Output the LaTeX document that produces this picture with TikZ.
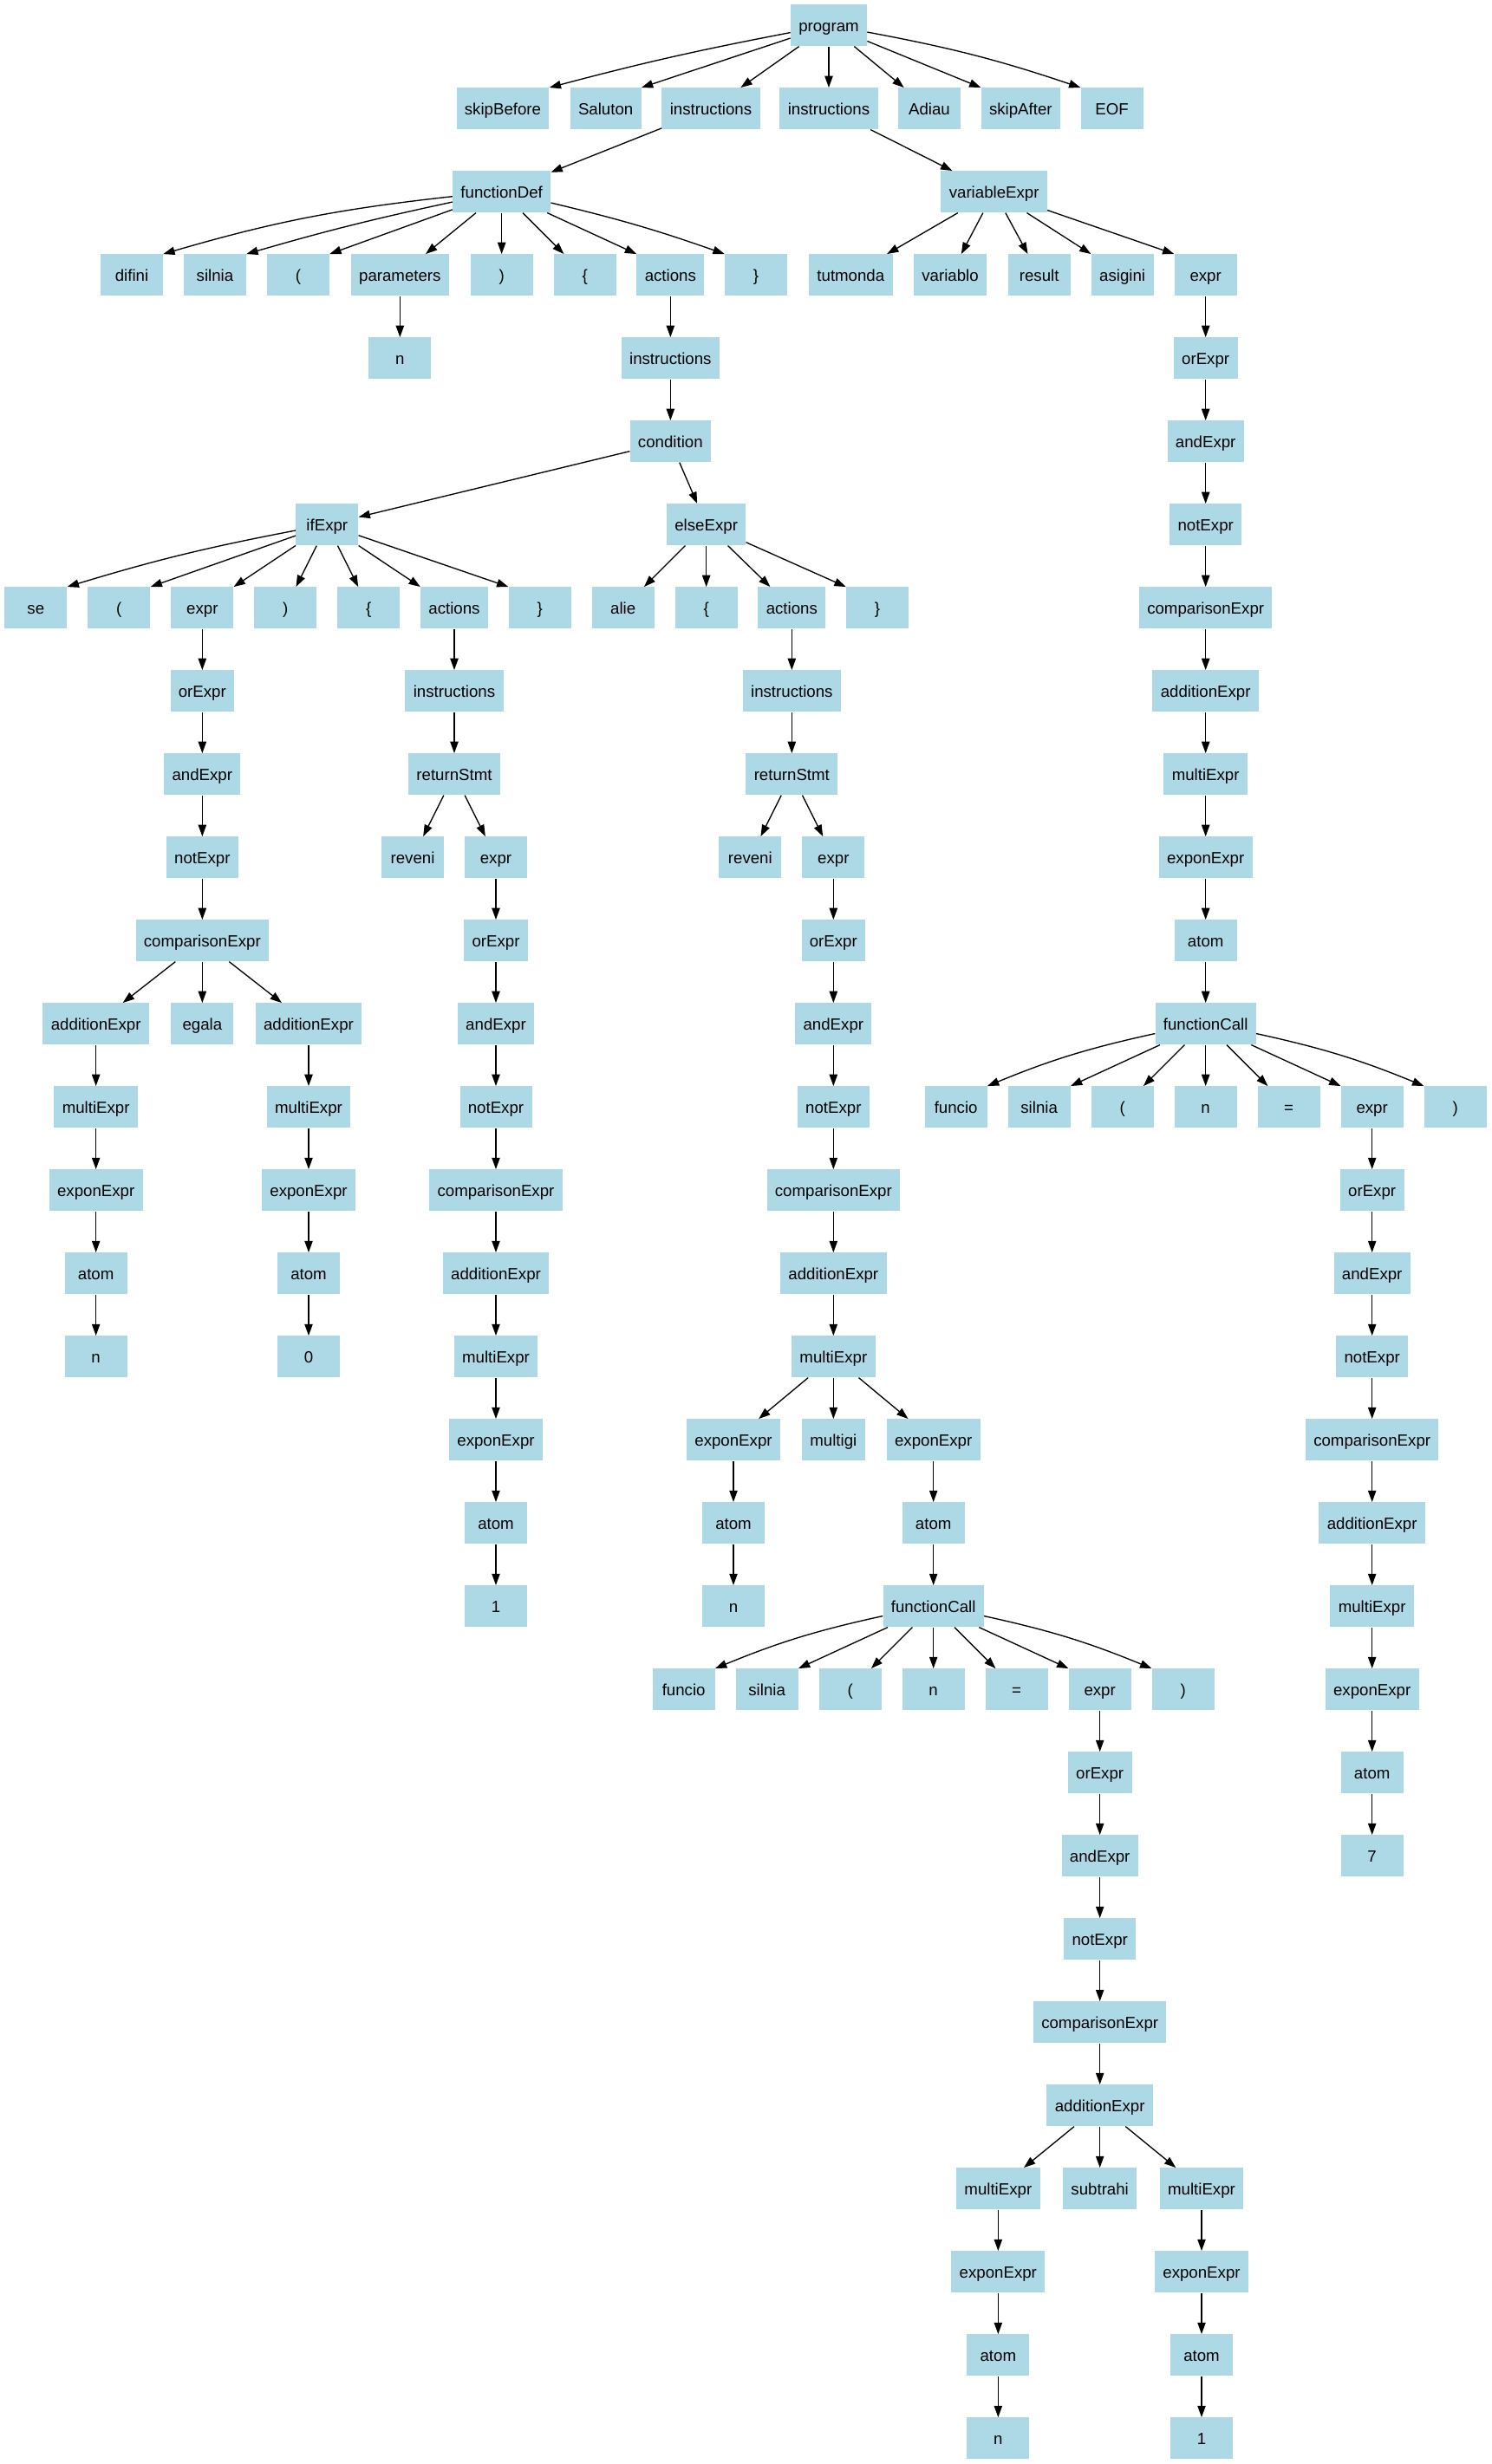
\documentclass[tikz,border=0pt]{standalone}
\usepackage{fontspec}
\setmainfont{Liberation Sans}
\usetikzlibrary{arrows.meta}
\definecolor{lightblue}{HTML}{ADD8E6}

\begin{document}
\begin{tikzpicture}[x=1pt, y=-72pt,
  tok/.style={fill=lightblue, minimum width=54pt, minimum height=36pt, inner xsep=7pt, inner ysep=0pt, text height=13pt, text depth=2pt, font=\fontsize{14}{16.8}\selectfont},
  arr/.style={-{Triangle[length=10pt, width=7pt]}, line width=1pt}]
\useasboundingbox (0,-0.30556) rectangle (1290,29.309);

\node[tok] (prog) at (717,0) {program};

\node[tok] (skipB) at (435,1) {skipBefore};
\node[tok] (salut) at (524,1) {Saluton};
\node[tok] (insA) at (615,1) {instructions};
\node[tok] (insB) at (717,1) {instructions};
\node[tok] (adiau) at (804,1) {Adiau};
\node[tok] (skipA) at (883,1) {skipAfter};
\node[tok] (eof) at (962,1) {EOF};

\node[tok] (fdef) at (434,2) {functionDef};
\node[tok] (vexpr) at (860,2) {variableExpr};

\node[tok] (fDifini) at (114,3) {difini};
\node[tok] (fSilnia) at (186,3) {silnia};
\node[tok] (fLp) at (258,3) {(};
\node[tok] (fPar) at (346,3) {parameters};
\node[tok] (fRp) at (434,3) {)};
\node[tok] (fLb) at (506,3) {\{};
\node[tok] (fAct) at (580,3) {actions};
\node[tok] (fRb) at (654,3) {\}};
\node[tok] (vTut) at (736,3) {tutmonda};
\node[tok] (vVar) at (822,3) {variablo};
\node[tok] (vRes) at (899,3) {result};
\node[tok] (vAsi) at (971,3) {asigini};
\node[tok] (vExpr) at (1043,3) {expr};

\node[tok] (fN) at (346,4) {n};
\node[tok] (fIns) at (580,4) {instructions};
\node[tok] (vOr) at (1043,4) {orExpr};

\node[tok] (fCond) at (580,5) {condition};
\node[tok] (vAnd) at (1043,5) {andExpr};

\node[tok] (ifx) at (283,6) {ifExpr};
\node[tok] (elsx) at (611,6) {elseExpr};
\node[tok] (vNot) at (1043,6) {notExpr};

\node[tok] (iSe) at (31,7) {se};
\node[tok] (iLp) at (103,7) {(};
\node[tok] (iExpr) at (175,7) {expr};
\node[tok] (iRp) at (247,7) {)};
\node[tok] (iLb) at (319,7) {\{};
\node[tok] (iAct) at (393,7) {actions};
\node[tok] (iRb) at (467,7) {\}};
\node[tok] (eAlie) at (539,7) {alie};
\node[tok] (eLb) at (611,7) {\{};
\node[tok] (eAct) at (685,7) {actions};
\node[tok] (eRb) at (759,7) {\}};
\node[tok] (vCmp) at (1043,7) {comparisonExpr};

\node[tok] (iOr) at (175,8) {orExpr};
\node[tok] (tIns) at (393,8) {instructions};
\node[tok] (eIns) at (685,8) {instructions};
\node[tok] (vAdd) at (1043,8) {additionExpr};

\node[tok] (iAnd) at (175,9) {andExpr};
\node[tok] (tRet) at (393,9) {returnStmt};
\node[tok] (eRet) at (685,9) {returnStmt};
\node[tok] (vMul) at (1043,9) {multiExpr};

\node[tok] (iNot) at (175,10) {notExpr};
\node[tok] (tRev) at (357,10) {reveni};
\node[tok] (tExpr) at (429,10) {expr};
\node[tok] (eRev) at (649,10) {reveni};
\node[tok] (eExpr) at (721,10) {expr};
\node[tok] (vExp) at (1043,10) {exponExpr};

\node[tok] (iCmp) at (175,11) {comparisonExpr};
\node[tok] (tOr) at (429,11) {orExpr};
\node[tok] (eOr) at (721,11) {orExpr};
\node[tok] (vAt) at (1043,11) {atom};

\node[tok] (iAddL) at (83,12) {additionExpr};
\node[tok] (iEq) at (175,12) {egala};
\node[tok] (iAddR) at (267,12) {additionExpr};
\node[tok] (tAnd) at (429,12) {andExpr};
\node[tok] (eAnd) at (721,12) {andExpr};
\node[tok] (vCall) at (1043,12) {functionCall};

\node[tok] (iMulL) at (83,13) {multiExpr};
\node[tok] (iMulR) at (267,13) {multiExpr};
\node[tok] (tNot) at (429,13) {notExpr};
\node[tok] (eNot) at (721,13) {notExpr};
\node[tok] (vFun) at (827,13) {funcio};
\node[tok] (vSil) at (899,13) {silnia};
\node[tok] (vLp) at (971,13) {(};
\node[tok] (vArg) at (1043,13) {n};
\node[tok] (vEq) at (1115,13) {=};
\node[tok] (vArgx) at (1187,13) {expr};
\node[tok] (vRp) at (1259,13) {)};

\node[tok] (iExpL) at (83,14) {exponExpr};
\node[tok] (iExpR) at (267,14) {exponExpr};
\node[tok] (tCmp) at (429,14) {comparisonExpr};
\node[tok] (eCmp) at (721,14) {comparisonExpr};
\node[tok] (vOr2) at (1187,14) {orExpr};

\node[tok] (iAtL) at (83,15) {atom};
\node[tok] (iAtR) at (267,15) {atom};
\node[tok] (tAdd) at (429,15) {additionExpr};
\node[tok] (eAdd) at (721,15) {additionExpr};
\node[tok] (vAnd2) at (1187,15) {andExpr};

\node[tok] (iN) at (83,16) {n};
\node[tok] (iZero) at (267,16) {0};
\node[tok] (tMul) at (429,16) {multiExpr};
\node[tok] (eMul) at (721,16) {multiExpr};
\node[tok] (vNot2) at (1187,16) {notExpr};

\node[tok] (tExp) at (429,17) {exponExpr};
\node[tok] (eExpL) at (634.5,17) {exponExpr};
\node[tok] (eMgi) at (721,17) {multigi};
\node[tok] (eExpR) at (807.5,17) {exponExpr};
\node[tok] (vCmp2) at (1187,17) {comparisonExpr};

\node[tok] (tAt) at (429,18) {atom};
\node[tok] (eAtL) at (634.5,18) {atom};
\node[tok] (eAtR) at (807.5,18) {atom};
\node[tok] (vAdd2) at (1187,18) {additionExpr};

\node[tok] (tOne) at (429,19) {1};
\node[tok] (eN) at (634.5,19) {n};
\node[tok] (eCall) at (807.5,19) {functionCall};
\node[tok] (vMul2) at (1187,19) {multiExpr};

\node[tok] (eFun) at (591.5,20) {funcio};
\node[tok] (eSil) at (663.5,20) {silnia};
\node[tok] (eLp) at (735.5,20) {(};
\node[tok] (eArg) at (807.5,20) {n};
\node[tok] (eEq) at (879.5,20) {=};
\node[tok] (eArgx) at (951.5,20) {expr};
\node[tok] (eRp) at (1023.5,20) {)};
\node[tok] (vExp2) at (1187,20) {exponExpr};

\node[tok] (eOr2) at (951.5,21) {orExpr};
\node[tok] (vAt2) at (1187,21) {atom};

\node[tok] (eAnd2) at (951.5,22) {andExpr};
\node[tok] (vSeven) at (1187,22) {7};

\node[tok] (eNot2) at (951.5,23) {notExpr};
\node[tok] (eCmp2) at (951.5,24) {comparisonExpr};
\node[tok] (eAdd2) at (951.5,25) {additionExpr};

\node[tok] (eMulL) at (863.5,26) {multiExpr};
\node[tok] (eSub) at (951.5,26) {subtrahi};
\node[tok] (eMulR) at (1039.5,26) {multiExpr};

\node[tok] (eExpL2) at (863.5,27) {exponExpr};
\node[tok] (eExpR2) at (1039.5,27) {exponExpr};
\node[tok] (eAtL2) at (863.5,28) {atom};
\node[tok] (eAtR2) at (1039.5,28) {atom};
\node[tok] (eN2) at (863.5,29) {n};
\node[tok] (eOne2) at (1039.5,29) {1};

\draw[arr] (prog) to[bend right=2] (skipB.north east);
\draw[arr] (prog) -- (salut.north east);
\draw[arr] (prog) -- (insA);
\draw[arr] (prog) -- (insB);
\draw[arr] (prog) -- (adiau);
\draw[arr] (prog) -- (skipA.north west);
\draw[arr] (prog) to[bend left=4] (eof.north west);

\draw[arr] (insA) -- (fdef);
\draw[arr] (insB) -- (vexpr);

\draw[arr] (fdef) to[bend right=5] (fDifini.north east);
\draw[arr] (fdef) to[bend right=2] (fSilnia.north east);
\draw[arr] (fdef) -- (fLp.north east);
\draw[arr] (fdef) -- (fPar);
\draw[arr] (fdef) -- (fRp);
\draw[arr] (fdef) -- (fLb);
\draw[arr] (fdef) -- (fAct.north west);
\draw[arr] (fdef) to[bend left=3] (fRb.north west);

\draw[arr] (vexpr) -- (vTut);
\draw[arr] (vexpr) -- (vVar);
\draw[arr] (vexpr) -- (vRes);
\draw[arr] (vexpr) -- (vAsi.north west);
\draw[arr] (vexpr) -- (vExpr.north west);

\draw[arr] (fPar) -- (fN);
\draw[arr] (fAct) -- (fIns);
\draw[arr] (fIns) -- (fCond);
\draw[arr] (fCond) -- (ifx);
\draw[arr] (fCond) -- (elsx);

\draw[arr] (ifx) to[bend right=3] (iSe.north east);
\draw[arr] (ifx) -- (iLp.north east);
\draw[arr] (ifx) -- (iExpr.north east);
\draw[arr] (ifx) -- (iRp);
\draw[arr] (ifx) -- (iLb);
\draw[arr] (ifx) -- (iAct.north west);
\draw[arr] (ifx) -- (iRb.north west);

\draw[arr] (elsx) -- (eAlie);
\draw[arr] (elsx) -- (eLb);
\draw[arr] (elsx) -- (eAct);
\draw[arr] (elsx) -- (eRb.north west);

\draw[arr] (iExpr) -- (iOr);
\draw[arr] (iOr) -- (iAnd);
\draw[arr] (iAnd) -- (iNot);
\draw[arr] (iNot) -- (iCmp);
\draw[arr] (iCmp) -- (iAddL);
\draw[arr] (iCmp) -- (iEq);
\draw[arr] (iCmp) -- (iAddR);
\draw[arr] (iAddL) -- (iMulL);
\draw[arr] (iMulL) -- (iExpL);
\draw[arr] (iExpL) -- (iAtL);
\draw[arr] (iAtL) -- (iN);
\draw[arr] (iAddR) -- (iMulR);
\draw[arr] (iMulR) -- (iExpR);
\draw[arr] (iExpR) -- (iAtR);
\draw[arr] (iAtR) -- (iZero);

\draw[arr] (iAct) -- (tIns);
\draw[arr] (tIns) -- (tRet);
\draw[arr] (tRet) -- (tRev);
\draw[arr] (tRet) -- (tExpr);
\draw[arr] (tExpr) -- (tOr);
\draw[arr] (tOr) -- (tAnd);
\draw[arr] (tAnd) -- (tNot);
\draw[arr] (tNot) -- (tCmp);
\draw[arr] (tCmp) -- (tAdd);
\draw[arr] (tAdd) -- (tMul);
\draw[arr] (tMul) -- (tExp);
\draw[arr] (tExp) -- (tAt);
\draw[arr] (tAt) -- (tOne);

\draw[arr] (eAct) -- (eIns);
\draw[arr] (eIns) -- (eRet);
\draw[arr] (eRet) -- (eRev);
\draw[arr] (eRet) -- (eExpr);
\draw[arr] (eExpr) -- (eOr);
\draw[arr] (eOr) -- (eAnd);
\draw[arr] (eAnd) -- (eNot);
\draw[arr] (eNot) -- (eCmp);
\draw[arr] (eCmp) -- (eAdd);
\draw[arr] (eAdd) -- (eMul);
\draw[arr] (eMul) -- (eExpL);
\draw[arr] (eMul) -- (eMgi);
\draw[arr] (eMul) -- (eExpR);
\draw[arr] (eExpL) -- (eAtL);
\draw[arr] (eAtL) -- (eN);
\draw[arr] (eExpR) -- (eAtR);
\draw[arr] (eAtR) -- (eCall);
\draw[arr] (eCall) to[bend right=5] (eFun.north east);
\draw[arr] (eCall) -- (eSil.north east);
\draw[arr] (eCall) -- (eLp);
\draw[arr] (eCall) -- (eArg);
\draw[arr] (eCall) -- (eEq);
\draw[arr] (eCall) -- (eArgx.north west);
\draw[arr] (eCall) to[bend left=5] (eRp.north west);
\draw[arr] (eArgx) -- (eOr2);
\draw[arr] (eOr2) -- (eAnd2);
\draw[arr] (eAnd2) -- (eNot2);
\draw[arr] (eNot2) -- (eCmp2);
\draw[arr] (eCmp2) -- (eAdd2);
\draw[arr] (eAdd2) -- (eMulL);
\draw[arr] (eAdd2) -- (eSub);
\draw[arr] (eAdd2) -- (eMulR);
\draw[arr] (eMulL) -- (eExpL2);
\draw[arr] (eExpL2) -- (eAtL2);
\draw[arr] (eAtL2) -- (eN2);
\draw[arr] (eMulR) -- (eExpR2);
\draw[arr] (eExpR2) -- (eAtR2);
\draw[arr] (eAtR2) -- (eOne2);

\draw[arr] (vExpr) -- (vOr);
\draw[arr] (vOr) -- (vAnd);
\draw[arr] (vAnd) -- (vNot);
\draw[arr] (vNot) -- (vCmp);
\draw[arr] (vCmp) -- (vAdd);
\draw[arr] (vAdd) -- (vMul);
\draw[arr] (vMul) -- (vExp);
\draw[arr] (vExp) -- (vAt);
\draw[arr] (vAt) -- (vCall);
\draw[arr] (vCall) to[bend right=5] (vFun.north east);
\draw[arr] (vCall) -- (vSil.north east);
\draw[arr] (vCall) -- (vLp);
\draw[arr] (vCall) -- (vArg);
\draw[arr] (vCall) -- (vEq);
\draw[arr] (vCall) -- (vArgx.north west);
\draw[arr] (vCall) to[bend left=5] (vRp.north west);
\draw[arr] (vArgx) -- (vOr2);
\draw[arr] (vOr2) -- (vAnd2);
\draw[arr] (vAnd2) -- (vNot2);
\draw[arr] (vNot2) -- (vCmp2);
\draw[arr] (vCmp2) -- (vAdd2);
\draw[arr] (vAdd2) -- (vMul2);
\draw[arr] (vMul2) -- (vExp2);
\draw[arr] (vExp2) -- (vAt2);
\draw[arr] (vAt2) -- (vSeven);
\end{tikzpicture}
\end{document}
